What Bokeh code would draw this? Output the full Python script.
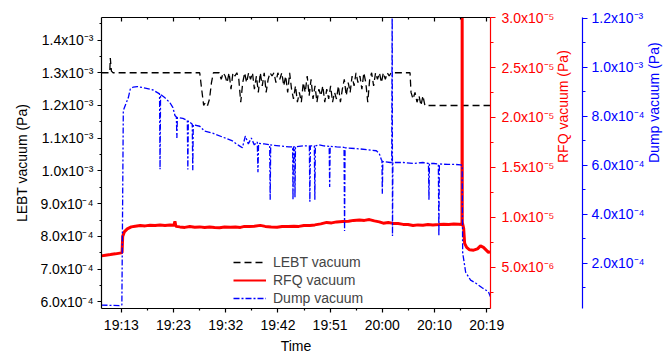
import math
from bokeh.plotting import figure
from bokeh.models import Range1d, LinearAxis, FixedTicker, CustomJSTickFormatter, Legend, LegendItem
from bokeh.embed import file_html
from bokeh.resources import INLINE

FONT = "Liberation Sans"

# ---- time axis (minutes after 19:00) ----
time_ticks = [13.30, 22.73, 32.16, 41.59, 51.02, 60.45, 69.88, 79.31]
time_tick_labels = ["19:13", "19:23", "19:32", "19:42", "19:51", "20:00", "20:10", "20:19"]
time_minor_ticks = [18.02, 27.45, 36.88, 46.31, 55.74, 65.17, 74.60]

# ---- LEBT vacuum (units of 1e-3 Pa) ----
lebt_time = [9.71, 11.20, 11.30, 11.50, 11.80,
             27.46, 27.81, 28.17, 28.52, 28.87, 29.23, 29.58, 29.93, 30.28, 30.64,
             30.99, 31.34, 31.70, 32.05, 32.40, 32.76, 33.11, 33.46, 33.81, 34.17,
             34.52, 34.87, 35.23, 35.58, 35.93, 36.29, 36.64, 36.99, 37.34, 37.70,
             38.05, 38.40, 38.76, 39.11, 39.46, 39.82, 40.17, 40.52, 40.87, 41.23,
             41.58, 41.93, 42.29, 42.64, 42.99, 43.35, 43.70, 44.05, 44.40, 44.76,
             45.11, 45.46, 45.82, 46.17, 46.52, 46.88, 47.23, 47.58, 47.93, 48.29,
             48.64, 48.99, 49.35, 49.70, 50.05, 50.41, 50.76, 51.11, 51.46, 51.82,
             52.17, 52.52, 52.88, 53.23, 53.58, 53.94, 54.29, 54.64, 54.99, 55.35,
             55.70, 56.05, 56.41, 56.76, 57.11, 57.47, 57.82, 58.17, 58.52, 58.88,
             59.23, 59.58, 59.94, 60.29, 60.64, 61.00, 61.35, 61.70, 62.05, 62.41,
             65.10, 65.46, 65.64, 66.00, 66.36, 66.72, 67.08, 67.44, 67.79, 68.15, 68.33, 80.00]
lebt_vacuum = [1.30, 1.30, 1.345, 1.305, 1.30,
               1.30, 1.25, 1.20, 1.21, 1.20, 1.22, 1.27, 1.30, 1.30, 1.30,
               1.30, 1.28, 1.30, 1.29, 1.27, 1.30, 1.25, 1.30, 1.29, 1.30,
               1.28, 1.21, 1.27, 1.30, 1.27, 1.30, 1.28, 1.30, 1.25, 1.29,
               1.24, 1.30, 1.26, 1.30, 1.24, 1.28, 1.30, 1.29, 1.30, 1.27,
               1.30, 1.28, 1.30, 1.26, 1.29, 1.24, 1.30, 1.25, 1.22, 1.26,
               1.21, 1.24, 1.21, 1.27, 1.24, 1.29, 1.23, 1.28, 1.22, 1.26,
               1.21, 1.25, 1.23, 1.26, 1.21, 1.25, 1.22, 1.26, 1.21, 1.24,
               1.22, 1.26, 1.21, 1.25, 1.28, 1.23, 1.27, 1.24, 1.29, 1.26,
               1.30, 1.27, 1.29, 1.25, 1.30, 1.27, 1.21, 1.28, 1.30, 1.26,
               1.30, 1.28, 1.30, 1.27, 1.30, 1.28, 1.30, 1.29, 1.30, 1.30,
               1.30, 1.30, 1.24, 1.22, 1.24, 1.21, 1.23, 1.20, 1.23, 1.20, 1.20, 1.20]

# ---- RFQ vacuum (units of 1e-6 Pa) ----
rfq_time = [9.71, 10.43, 11.32, 12.22, 13.30, 13.43, 13.54, 13.83, 14.37, 15.09,
            15.81, 16.70, 17.60, 18.49, 19.39, 20.29, 21.18, 22.08, 22.80, 22.98,
            23.15, 23.87, 24.77, 25.67, 26.56, 27.46, 28.35, 29.25, 30.15, 31.04,
            31.94, 33.02, 33.91, 34.81, 35.53, 36.42, 37.32, 38.40, 39.29, 40.37,
            41.44, 42.34, 43.41, 44.49, 45.38, 46.28, 47.36, 48.26, 49.33, 50.40,
            51.30, 52.20, 53.27, 54.35, 55.25, 56.32, 57.22, 58.12, 59.01, 59.91,
            60.63, 61.52, 62.42, 63.31, 64.21, 65.10, 66.00, 66.90, 67.79, 68.70,
            69.59, 70.67, 71.56, 72.46, 73.36, 74.25, 74.85, 74.88, 74.90, 75.15,
            75.33, 75.69, 76.22, 76.94, 77.65, 78.19, 78.73, 79.27, 79.63, 79.99]
rfq_vacuum = [6.15, 6.22, 6.28, 6.35, 6.45, 6.50, 8.10, 8.55, 8.85, 9.05,
              9.12, 9.18, 9.15, 9.22, 9.18, 9.24, 9.20, 9.25, 9.22, 9.60,
              9.10, 9.05, 9.00, 9.08, 9.02, 9.05, 8.98, 9.04, 9.00, 8.97,
              9.03, 9.02, 9.05, 9.00, 9.10, 9.08, 9.12, 9.20, 9.10, 9.05,
              9.02, 9.08, 9.10, 9.12, 9.10, 9.18, 9.20, 9.25, 9.35, 9.50,
              9.45, 9.55, 9.60, 9.62, 9.70, 9.75, 9.70, 9.78, 9.65, 9.55,
              9.42, 9.48, 9.40, 9.38, 9.30, 9.28, 9.18, 9.25, 9.22, 9.28,
              9.25, 9.28, 9.32, 9.30, 9.35, 9.32, 9.30, 31.0, 9.50, 8.90,
              7.40, 7.00, 6.75, 6.72, 6.85, 7.15, 7.00, 6.70, 6.50, 6.55]

# ---- Dump vacuum (units of 1e-4 Pa) ----
dump_time = [9.71, 12.94, 13.39, 13.65, 14.19, 14.55, 14.91, 15.45, 16.16, 17.60,
             19.03, 20.20, 20.29, 20.38, 21.18, 22.08, 22.62, 22.98, 23.24, 23.33,
             23.42, 24.41, 25.22, 25.31, 25.40, 26.11, 26.20, 26.29, 27.46, 28.35,
             29.79, 31.58, 33.38, 34.09, 34.63, 35.17, 35.70, 36.24, 36.78, 37.32,
             37.86, 37.98, 38.09, 39.11, 40.10, 40.19, 40.28, 41.80, 43.59, 44.25,
             44.31, 44.40, 44.61, 44.67, 44.76, 46.28, 47.27, 47.36, 47.45, 48.17,
             48.26, 48.35, 48.97, 49.87, 50.85, 50.94, 51.03, 52.20, 53.54, 53.63,
             53.72, 56.14, 57.94, 59.37, 59.91, 60.27, 60.39, 60.45, 60.54, 61.88,
             62.15, 62.24, 62.29, 62.36, 64.21, 66.00, 67.79, 68.79, 68.88, 68.97,
             69.77, 70.58, 70.67, 70.76, 72.28, 73.72, 74.61, 74.88, 74.97, 75.51,
             76.40, 77.30, 78.55, 79.63, 79.99]
dump_vacuum = [0.30, 0.28, 0.30, 8.24, 8.56, 8.76, 9.12, 9.20, 9.22, 9.16,
               9.08, 8.92, 5.84, 8.90, 8.76, 8.56, 8.36, 8.04, 7.98, 7.12,
               7.96, 7.92, 7.84, 5.84, 7.82, 7.68, 5.80, 7.66, 7.60, 7.40,
               7.32, 7.16, 7.00, 6.88, 6.80, 6.72, 7.20, 6.88, 7.12, 6.84,
               6.96, 5.72, 6.90, 6.88, 6.84, 4.60, 6.84, 6.80, 6.76, 6.76,
               4.60, 6.76, 6.76, 4.70, 6.76, 6.80, 6.80, 4.52, 6.80, 6.80,
               4.60, 6.80, 6.84, 6.80, 6.78, 5.12, 6.78, 6.76, 6.74, 3.32,
               6.72, 6.68, 6.64, 6.60, 6.48, 6.24, 6.20, 4.84, 6.16, 6.12,
               6.12, 13.0, 3.12, 6.12, 6.12, 6.08, 6.12, 6.08, 4.60, 6.08,
               6.08, 6.06, 3.12, 6.06, 6.04, 6.04, 6.02, 6.00, 2.44, 1.64,
               1.32, 1.20, 1.00, 0.84, 0.64]

# ---- axis ticks ----
lebt_ticks = [0.6, 0.7, 0.8, 0.9, 1.0, 1.1, 1.2, 1.3, 1.4]
lebt_minor = [0.65, 0.75, 0.85, 0.95, 1.05, 1.15, 1.25, 1.35, 1.45]
lebt_tick_labels = ["6.0x10\u207b\u2074", "7.0x10\u207b\u2074", "8.0x10\u207b\u2074", "9.0x10\u207b\u2074",
                    "1.0x10\u207b\u00b3", "1.1x10\u207b\u00b3", "1.2x10\u207b\u00b3", "1.3x10\u207b\u00b3",
                    "1.4x10\u207b\u00b3"]
rfq_ticks = [5.0, 10.0, 15.0, 20.0, 25.0, 30.0]
rfq_minor = [2.5, 7.5, 12.5, 17.5, 22.5, 27.5]
rfq_tick_labels = ["5.0x10\u207b\u2076", "1.0x10\u207b\u2075", "1.5x10\u207b\u2075",
                   "2.0x10\u207b\u2075", "2.5x10\u207b\u2075", "3.0x10\u207b\u2075"]
dump_ticks = [2.0, 4.0, 6.0, 8.0, 10.0, 12.0]
dump_minor = [1.0, 3.0, 5.0, 7.0, 9.0, 11.0]
dump_tick_labels = ["2.0x10\u207b\u2074", "4.0x10\u207b\u2074", "6.0x10\u207b\u2074",
                    "8.0x10\u207b\u2074", "1.0x10\u207b\u00b3", "1.2x10\u207b\u00b3"]


def fmt(vals, labs):
    return CustomJSTickFormatter(args=dict(vals=vals, labs=labs), code="""
let best = -1, d = Infinity;
for (let i = 0; i < vals.length; i++) {
  const dd = Math.abs(vals[i] - tick);
  if (dd < d) { d = dd; best = i; }
}
return (best >= 0 && d < 1e-3) ? labs[best] : "";
""")


def style_axis(ax, color, tick_out=4, minor_out=2):
    ax.axis_line_color = color
    ax.axis_line_width = 1.2
    ax.major_tick_line_color = color
    ax.minor_tick_line_color = color
    ax.major_tick_line_width = 1.2
    ax.minor_tick_line_width = 1.2
    ax.major_tick_in = 0
    ax.major_tick_out = tick_out
    ax.minor_tick_in = 0
    ax.minor_tick_out = minor_out
    ax.major_label_text_color = color
    ax.major_label_text_font = FONT
    ax.major_label_text_font_size = "14px"
    ax.axis_label_text_color = color
    ax.axis_label_text_font = FONT
    ax.axis_label_text_font_size = "14px"
    ax.axis_label_text_font_style = "normal"


p = figure(width=672, height=356, output_backend="svg", toolbar_location=None,
           x_range=Range1d(9.71, 80.0), y_range=Range1d(0.5796, 1.4689),
           min_border_left=101, min_border_right=179, min_border_top=17, min_border_bottom=42)
p.extra_y_ranges = {"rfq": Range1d(0.88, 30.01), "dump": Range1d(0.16, 12.04)}
p.outline_line_color = None
p.xgrid.grid_line_color = None
p.ygrid.grid_line_color = None
p.background_fill_color = "white"
p.border_fill_color = "white"

r_lebt = p.line(lebt_time, lebt_vacuum, line_color="black", line_width=1.3, line_dash="7 4")
r_rfq = p.line(rfq_time, rfq_vacuum, line_color="red", line_width=3, y_range_name="rfq")
r_dump = p.line(dump_time, dump_vacuum, line_color="blue", line_width=1.3,
                line_dash="6 2 2 2", y_range_name="dump")
# legend key for the RFQ series: a single point outside the visible time range
rfq_key = p.line([0.0], [0.0], line_color="red", line_width=1.8)

# x axis
xa = p.xaxis[0]
xa.ticker = FixedTicker(ticks=time_ticks, minor_ticks=time_minor_ticks)
xa.formatter = fmt(time_ticks, time_tick_labels)
style_axis(xa, "black")
xa.axis_label = "Time"
xa.major_label_standoff = 4
xa.axis_label_standoff = 2

# top mirror axis
top = LinearAxis(ticker=FixedTicker(ticks=time_ticks, minor_ticks=time_minor_ticks),
                 formatter=fmt(time_ticks, ["" for _ in time_ticks]))
style_axis(top, "black")
top.major_tick_out = 0
top.minor_tick_out = 0
top.major_tick_in = 4
top.minor_tick_in = 2
top.major_label_text_font_size = "0px"
top.major_label_standoff = 0
p.add_layout(top, "above")

# left axis
ya = p.yaxis[0]
ya.ticker = FixedTicker(ticks=lebt_ticks, minor_ticks=lebt_minor)
ya.formatter = fmt(lebt_ticks, lebt_tick_labels)
style_axis(ya, "black")
ya.axis_label = "LEBT vacuum (Pa)"
ya.major_label_standoff = 4
ya.axis_label_standoff = 7

# right axes
ra = LinearAxis(y_range_name="rfq", ticker=FixedTicker(ticks=rfq_ticks, minor_ticks=rfq_minor),
                formatter=fmt(rfq_ticks, rfq_tick_labels), axis_label="RFQ vacuum (Pa)")
style_axis(ra, "red", 5, 3)
ra.major_label_standoff = 6
ra.axis_label_standoff = 6
ra.axis_label_orientation = math.pi / 2
p.add_layout(ra, "right")

da = LinearAxis(y_range_name="dump", ticker=FixedTicker(ticks=dump_ticks, minor_ticks=dump_minor),
                formatter=fmt(dump_ticks, dump_tick_labels), axis_label="Dump vacuum (Pa)")
style_axis(da, "blue", 5, 3)
da.major_label_standoff = 4
da.axis_label_standoff = 6
da.axis_label_orientation = math.pi / 2
p.add_layout(da, "right")

legend = Legend(items=[LegendItem(label="LEBT vacuum", renderers=[r_lebt]),
                       LegendItem(label="RFQ vacuum", renderers=[rfq_key]),
                       LegendItem(label="Dump vacuum", renderers=[r_dump])],
                location=(132, 2), orientation="vertical", padding=0, margin=0, spacing=2,
                glyph_width=33, glyph_height=16, label_height=16, label_standoff=7,
                border_line_color=None, background_fill_alpha=0,
                label_text_font=FONT, label_text_font_size="14px")
p.add_layout(legend)

open("out.html", "w").write(file_html(p, INLINE))
